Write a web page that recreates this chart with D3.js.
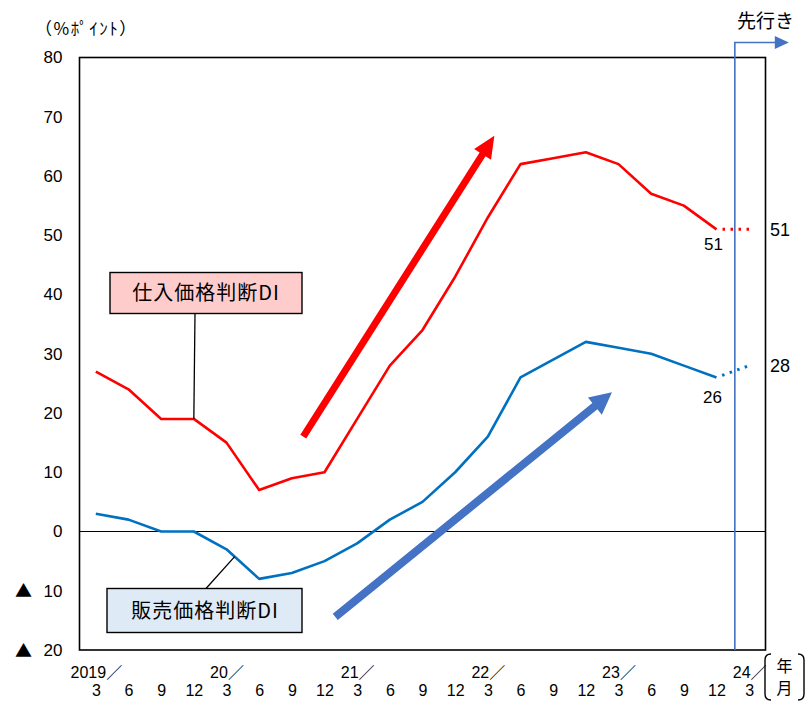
<!DOCTYPE html>
<html>
<head>
<meta charset="utf-8">
<script src="https://cdn.jsdelivr.net/npm/d3@7/dist/d3.min.js"></script>
<style>
  body { margin: 0; background: #fff; }
  text { font-family: "Liberation Sans", Arial, "Noto Sans CJK JP", sans-serif; fill: #000; }
  .jp { font-family: "Noto Sans CJK JP", sans-serif; }
</style>
</head>
<body>
<svg id="chart" width="808" height="701"></svg>
<script>
// Quarter-end months, 2019/3 .. 2024/3
const months = ["3","6","9","12","3","6","9","12","3","6","9","12","3","6","9","12","3","6","9","12","3"];
const yearIdx = [0, 4, 8, 12, 16, 20];
const yearLabels = ["2019／", "20／", "21／", "22／", "23／", "24／"];

// DI values (% points), 2019/3 .. 2023/12
const purchaseDI = [27, 24, 19, 19, 15, 7, 9, 10, 19, 28, 34, 43, 53, 62, 63, 64, 62, 57, 55, 51];
const sellingDI  = [3, 2, 0, 0, -3, -8, -7, -5, -2, 2, 5, 10, 16, 26, 29, 32, 31, 30, 28, 26];
// Outlook for 2024/3
const purchaseOutlook = 51;
const sellingOutlook = 28;

const yTicks = [-20, -10, 0, 10, 20, 30, 40, 50, 60, 70, 80];

const svg = d3.select("#chart");
const L = 79.5, R = 765.5, T = 57.5, B = 650;

const x = d3.scalePoint().domain(d3.range(months.length)).range([L, R]).padding(0.5);
const xAt = i => x(0) + i * x.step();
const y = d3.scaleLinear().domain([-20, 80]).range([B, T]);

// Y axis labels (negatives marked with ▲)
const yAxis = svg.append("g").attr("transform", `translate(${L},0)`)
  .call(d3.axisLeft(y).tickValues(yTicks).tickSize(0).tickPadding(17)
    .tickFormat(d => String(Math.abs(d))));
yAxis.select(".domain").remove();
yAxis.selectAll("text").attr("font-size", 17).attr("font-family", null);
yAxis.selectAll(".tick").filter(d => d < 0).append("text")
  .attr("class", "jp").attr("x", 15 - L).attr("dy", "0.36em")
  .attr("text-anchor", "start").attr("font-size", 17).text("▲");

// X axis: months and years
const xAxis = svg.append("g").attr("transform", `translate(0,${B})`)
  .call(d3.axisBottom(x).tickSize(0).tickPadding(35).tickFormat(i => months[i]));
xAxis.select(".domain").remove();
xAxis.selectAll("text").attr("font-size", 16).attr("font-family", null);

const yearAxis = svg.append("g").attr("transform", `translate(0,${B})`)
  .call(d3.axisBottom(x).tickValues(yearIdx).tickSize(0).tickPadding(17)
    .tickFormat(i => yearLabels[yearIdx.indexOf(i)]));
yearAxis.select(".domain").remove();
yearAxis.selectAll("text").attr("font-size", 16).attr("font-family", null);

// Unit label
svg.append("text").attr("class", "jp").attr("x", 35).attr("y", 35)
  .attr("font-size", 17).attr("letter-spacing", 1.5).text("（%ﾎﾟｲﾝﾄ）");

// Zero line
svg.append("line").attr("x1", L).attr("x2", R).attr("y1", y(0)).attr("y2", y(0))
  .attr("stroke", "#000").attr("stroke-width", 1.2);

// Plot frame
svg.append("rect").attr("x", L).attr("y", T).attr("width", R - L).attr("height", B - T)
  .attr("fill", "none").attr("stroke", "#000").attr("stroke-width", 1.6);

// Outlook marker: vertical line with arrow to the right
const vx = (xAt(19) + xAt(20)) / 2 + 2;
const ay = 42.5;
svg.append("path")
  .attr("d", `M${vx},${B} L${vx},${ay} L${vx + 42},${ay}`)
  .attr("fill", "none").attr("stroke", "#4472C4").attr("stroke-width", 1.6);
svg.append("path")
  .attr("d", `M${vx + 40},${ay - 6.5} L${vx + 54},${ay} L${vx + 40},${ay + 6.5} Z`)
  .attr("fill", "#4472C4");
svg.append("text").attr("class", "jp").attr("x", 737).attr("y", 28)
  .attr("font-size", 19).text("先行き");

// Trend arrows (drawn in data space)
const trendArrows = [
  { from: [6.35, 16], to: [12.2, 66.8], color: "#FF0000", shaft: 7, head: 22, headW: 20 },
  { from: [7.33, -14.4], to: [15.8, 23.5], color: "#4472C4", shaft: 8, head: 22, headW: 22 }
];
function arrowPath(x1, y1, x2, y2, sw, hl, hw) {
  const dx = x2 - x1, dy = y2 - y1, len = Math.hypot(dx, dy);
  const ux = dx / len, uy = dy / len, px = -uy, py = ux;
  const bx = x2 - ux * hl, by = y2 - uy * hl;
  const p = [
    [x1 + px * sw / 2, y1 + py * sw / 2],
    [bx + px * sw / 2, by + py * sw / 2],
    [bx + px * hw / 2, by + py * hw / 2],
    [x2, y2],
    [bx - px * hw / 2, by - py * hw / 2],
    [bx - px * sw / 2, by - py * sw / 2],
    [x1 - px * sw / 2, y1 - py * sw / 2]
  ];
  return "M" + p.map(q => q.join(",")).join("L") + "Z";
}
svg.selectAll("path.trend").data(trendArrows).join("path").attr("class", "trend")
  .attr("d", a => arrowPath(xAt(a.from[0]), y(a.from[1]), xAt(a.to[0]), y(a.to[1]), a.shaft, a.head, a.headW))
  .attr("fill", a => a.color);

// Series lines
const line = d3.line().x((d, i) => x(i)).y(d => y(d));
svg.append("path").datum(purchaseDI).attr("d", line)
  .attr("fill", "none").attr("stroke", "#FF0000").attr("stroke-width", 2.6).attr("stroke-linejoin", "round");
svg.append("path").datum(sellingDI).attr("d", line)
  .attr("fill", "none").attr("stroke", "#0070C0").attr("stroke-width", 2.6).attr("stroke-linejoin", "round");

// Dotted outlook segments
const last = purchaseDI.length - 1;
function outlookSeg(v0, v1, color) {
  const x0 = x(last), x1 = x(last + 1), y0 = y(v0), y1 = y(v1);
  const t = 6 / Math.hypot(x1 - x0, y1 - y0);
  svg.append("line")
    .attr("x1", x0 + (x1 - x0) * t).attr("y1", y0 + (y1 - y0) * t)
    .attr("x2", x1).attr("y2", y1)
    .attr("stroke", color).attr("stroke-width", 3)
    .attr("stroke-dasharray", "2.5,5.5");
}
outlookSeg(purchaseDI[last], purchaseOutlook, "#FF0000");
outlookSeg(sellingDI[last], sellingOutlook, "#0070C0");

// Value labels
svg.append("text").attr("x", x(last) - 3).attr("y", y(purchaseDI[last]) + 21)
  .attr("text-anchor", "middle").attr("font-size", 17).text(purchaseDI[last]);
svg.append("text").attr("x", x(last) - 4).attr("y", y(sellingDI[last]) + 26)
  .attr("text-anchor", "middle").attr("font-size", 17).text(sellingDI[last]);
svg.append("text").attr("x", 770).attr("y", y(purchaseOutlook)).attr("dy", "0.35em")
  .attr("font-size", 18).text(purchaseOutlook);
svg.append("text").attr("x", 770).attr("y", y(sellingOutlook)).attr("dy", "0.35em")
  .attr("font-size", 18).text(sellingOutlook);

// Series name boxes with leader lines
svg.append("line").attr("x1", 195).attr("y1", 313).attr("x2", x(3)).attr("y2", y(purchaseDI[3]))
  .attr("stroke", "#000").attr("stroke-width", 1.3);
svg.append("rect").attr("x", 110).attr("y", 272.5).attr("width", 192).attr("height", 41)
  .attr("fill", "#FFCCCC").attr("stroke", "#000").attr("stroke-width", 1.4);
svg.append("text").attr("class", "jp").attr("x", 206).attr("y", 293).attr("dy", "0.35em")
  .attr("text-anchor", "middle").attr("font-size", 20).attr("letter-spacing", 1).text("仕入価格判断DI");

const lx = xAt(4.25), lv = sellingDI[4] + (sellingDI[5] - sellingDI[4]) * 0.25;
svg.append("line").attr("x1", 206).attr("y1", 588.5).attr("x2", lx).attr("y2", y(lv))
  .attr("stroke", "#000").attr("stroke-width", 1.3);
svg.append("rect").attr("x", 107).attr("y", 588.5).attr("width", 195).attr("height", 44)
  .attr("fill", "#DEEBF7").attr("stroke", "#000").attr("stroke-width", 1.4);
svg.append("text").attr("class", "jp").attr("x", 205).attr("y", 610.5).attr("dy", "0.35em")
  .attr("text-anchor", "middle").attr("font-size", 20).attr("letter-spacing", 1).text("販売価格判断DI");

// 年/月 unit with brackets
svg.append("path").attr("d", "M771,654 Q765,654 765,660 L765,694 Q765,700 771,700")
  .attr("fill", "none").attr("stroke", "#000").attr("stroke-width", 1.4);
svg.append("path").attr("d", "M798,654 Q804,654 804,660 L804,694 Q804,700 798,700")
  .attr("fill", "none").attr("stroke", "#000").attr("stroke-width", 1.4);
svg.append("text").attr("class", "jp").attr("x", 784.5).attr("y", 672)
  .attr("text-anchor", "middle").attr("font-size", 16).text("年");
svg.append("text").attr("class", "jp").attr("x", 784.5).attr("y", 694)
  .attr("text-anchor", "middle").attr("font-size", 16).text("月");
</script>
</body>
</html>
